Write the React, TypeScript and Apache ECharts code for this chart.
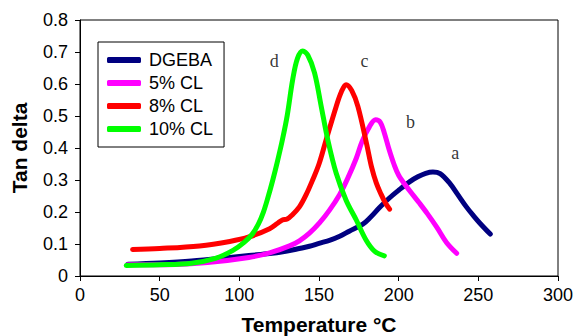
import React, { useEffect, useRef } from "react";
import * as echarts from "echarts";

const xTicks = [0, 50, 100, 150, 200, 250, 300];
const yTicks = [0, 0.1, 0.2, 0.3, 0.4, 0.5, 0.6, 0.7, 0.8];

const seriesNames = ["DGEBA", "5% CL", "8% CL", "10% CL"];
const seriesColors = ["#000080", "#ff00ff", "#ff0000", "#00ff00"];

const dgebaT = [30, 50, 70, 94, 106, 119, 130, 137.7, 144, 150, 157, 163, 169, 177.5, 182, 188, 194, 200, 207, 212, 217, 221.5, 226, 232, 237, 242.5, 247, 251, 257.5];
const dgebaV = [0.037, 0.041, 0.047, 0.058, 0.064, 0.07, 0.078, 0.086, 0.093, 0.102, 0.112, 0.124, 0.14, 0.162, 0.182, 0.214, 0.243, 0.268, 0.295, 0.31, 0.321, 0.325, 0.32, 0.29, 0.255, 0.216, 0.188, 0.165, 0.131];

const cl5T = [30, 60, 80, 106, 119, 131.5, 137.7, 144, 150.3, 156.6, 163, 168, 173.4, 177, 181.7, 185.5, 188.5, 191, 194, 197, 200, 205, 213, 218, 224, 230, 236.4];
const cl5V = [0.035, 0.036, 0.042, 0.058, 0.072, 0.094, 0.11, 0.134, 0.166, 0.206, 0.255, 0.305, 0.368, 0.42, 0.467, 0.488, 0.48, 0.447, 0.395, 0.35, 0.315, 0.279, 0.228, 0.195, 0.152, 0.105, 0.071];

const cl8T = [33, 50, 75, 94, 106, 119, 124, 127, 130, 133, 137.7, 142, 146, 150, 154.5, 160.8, 164, 167, 170.5, 174.4, 180, 183, 186, 189, 191.5, 194.3];
const cl8V = [0.083, 0.086, 0.094, 0.108, 0.122, 0.148, 0.165, 0.175, 0.178, 0.19, 0.216, 0.255, 0.3, 0.35, 0.426, 0.53, 0.575, 0.598, 0.58, 0.53, 0.41, 0.34, 0.29, 0.255, 0.23, 0.209];

const cl10T = [29, 50, 70, 85, 96, 103, 108, 112, 115, 118, 121, 124, 127, 130, 133.5, 136.5, 139.8, 143, 147.2, 151.4, 155.5, 160.8, 167, 173.4, 179.6, 185, 191];
const cl10V = [0.033, 0.035, 0.04, 0.055, 0.08, 0.105, 0.13, 0.163, 0.198, 0.246, 0.3, 0.36, 0.425, 0.5, 0.614, 0.68, 0.703, 0.69, 0.635, 0.53, 0.426, 0.321, 0.237, 0.175, 0.112, 0.077, 0.063];

const noteText = ["a", "b", "c", "d"];
const noteT = [235.5, 207.5, 178.6, 121.9];
const noteV = [0.384, 0.48, 0.671, 0.671];

const allT = [dgebaT, cl5T, cl8T, cl10T];
const allV = [dgebaV, cl5V, cl8V, cl10V];

const SANS = "'Liberation Sans', Arial, sans-serif";
const SERIF = "'Liberation Serif', 'Times New Roman', serif";

export default function App() {
  const ref = useRef<HTMLDivElement>(null);
  useEffect(() => {
    if (!ref.current) return;
    const chart = echarts.init(ref.current, null, { renderer: "svg" });
    const lineSeries = seriesNames.map((name, i) => ({
      name,
      type: "line",
      data: allT[i].map((t, j) => [t, allV[i][j]]),
      showSymbol: false,
      symbol: "none",
      smooth: 0.35,
      color: seriesColors[i],
      lineStyle: { width: 5, color: seriesColors[i], cap: "round", join: "round" },
      z: 2 + i,
    }));
    const notes = {
      name: "notes",
      type: "scatter",
      symbolSize: 0,
      data: noteText.map((s, i) => ({ name: s, value: [noteT[i], noteV[i]] })),
      label: {
        show: true,
        position: "inside",
        formatter: (p: any) => p.name,
        color: "#000",
        fontFamily: SERIF,
        fontSize: 18,
      },
      z: 10,
    };
    chart.setOption({
      animation: false,
      grid: {
        left: 80,
        right: 20,
        top: 20,
        bottom: 60,
        containLabel: false,
        outerBoundsMode: "none",
        show: true,
        borderColor: "#000",
        borderWidth: 1,
        backgroundColor: "#fff",
      },
      legend: {
        data: seriesNames,
        orient: "vertical",
        left: 98,
        top: 42,
        padding: [9, 11, 9, 9],
        itemGap: 5,
        itemWidth: 34,
        itemHeight: 6,
        icon: "roundRect",
        borderColor: "#000",
        borderWidth: 1,
        backgroundColor: "#fff",
        textStyle: {
          fontFamily: SANS,
          fontSize: 18,
          color: "#000",
          padding: [0, 0, 0, 3],
        },
      },
      xAxis: {
        type: "value",
        min: xTicks[0],
        max: xTicks[xTicks.length - 1],
        interval: 50,
        name: "Temperature °C",
        nameLocation: "middle",
        nameGap: 38,
        nameTextStyle: { fontFamily: SANS, fontSize: 21, fontWeight: "bold", color: "#000" },
        axisLine: { show: true, lineStyle: { color: "#000", width: 1 } },
        axisTick: { show: true, length: 5, lineStyle: { color: "#000" } },
        axisLabel: { color: "#000", fontFamily: SANS, fontSize: 18, margin: 10 },
        splitLine: { show: false },
      },
      yAxis: {
        type: "value",
        min: yTicks[0],
        max: yTicks[yTicks.length - 1],
        interval: 0.1,
        name: "Tan delta",
        nameLocation: "middle",
        nameGap: 50,
        nameTextStyle: { fontFamily: SANS, fontSize: 21, fontWeight: "bold", color: "#000" },
        axisLine: { show: true, lineStyle: { color: "#000", width: 1 } },
        axisTick: { show: true, length: 5, lineStyle: { color: "#000" } },
        axisLabel: { color: "#000", fontFamily: SANS, fontSize: 18, margin: 12 },
        splitLine: { show: false },
      },
      series: [...lineSeries, notes],
    });
    return () => chart.dispose();
  }, []);
  return <div ref={ref} style={{ width: 578, height: 336, position: "absolute", left: 0, top: 0 }} />;
}
